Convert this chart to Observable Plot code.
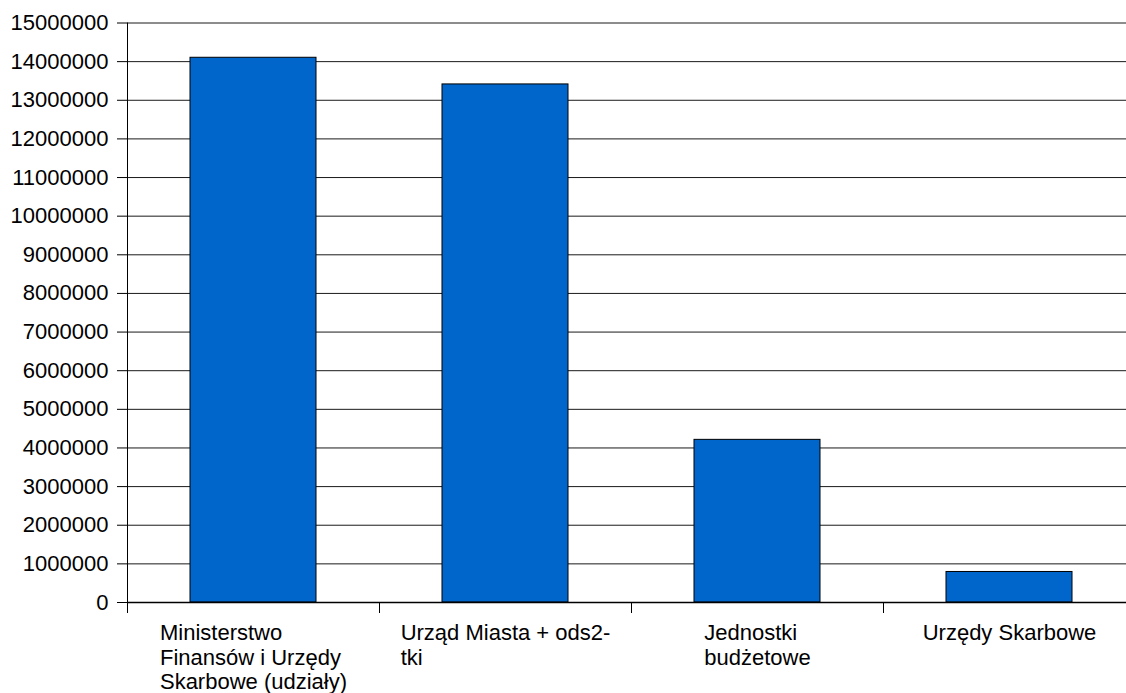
<!DOCTYPE html>
<html><head><meta charset="utf-8">
<script src="https://cdn.jsdelivr.net/npm/d3@7"></script>
<script src="https://cdn.jsdelivr.net/npm/@observablehq/plot@0.6"></script>
<style>html,body{margin:0;padding:0;background:#fff} svg{display:block}</style>
</head><body><div id="chart"></div>
<script>
const categories = [
  "Ministerstwo\nFinansów i Urzędy\nSkarbowe (udziały)",
  "Urząd Miasta + ods2-\ntki",
  "Jednostki\nbudżetowe",
  "Urzędy Skarbowe"
];
const values = [14100000, 13410000, 4210000, 790000];
const yTicks = [0, 1000000, 2000000, 3000000, 4000000, 5000000, 6000000, 7000000,
  8000000, 9000000, 10000000, 11000000, 12000000, 13000000, 14000000, 15000000];

const FONT = "'Liberation Sans', Arial, Helvetica, sans-serif";
const FS = 22;
const ctx = document.createElement("canvas").getContext("2d");
ctx.font = `${FS}px ${FONT}`;
const blockWidth = s => Math.max(...s.split("\n").map(l => ctx.measureText(l).width));

const xRange = [127, 1135];
const step = (xRange[1] - xRange[0]) / categories.length;
const data = categories.map((c, i) => ({category: c, value: values[i]}));

const labelMarks = data.map(d => Plot.text([d], {
  x: "category", y: () => 0, text: "category",
  textAnchor: "start", lineAnchor: "top", lineHeight: 24.5 / FS,
  dx: -blockWidth(d.category) / 2, dy: 20.5,
  fill: "#000", fontSize: FS
}));

const plot = Plot.plot({
  width: 1126, height: 693,
  marginLeft: 127, marginRight: 0, marginTop: 22.5, marginBottom: 91,
  style: {fontFamily: FONT, fontSize: FS + "px", color: "#000", background: "#fff", overflow: "visible"},
  x: {type: "band", domain: categories, range: xRange, paddingInner: 0.5, paddingOuter: 0.25, axis: null},
  y: {domain: [0, 15000000], axis: null},
  marks: [
    Plot.ruleY(yTicks, {stroke: "#1a1a1a", strokeWidth: 1}),
    Plot.barY(data, {x: "category", y: "value", fill: "#0066cc", stroke: "#000", strokeWidth: 1}),
    Plot.ruleY([0], {stroke: "#000", strokeWidth: 1.5}),
    Plot.ruleX(categories, {x: d => d, y1: () => 0, y2: () => 0, insetBottom: -11, dx: -step / 2, stroke: "#000"}),
    Plot.ruleX(categories.slice(0, 1), {x: d => d, y1: () => 15000000, y2: () => 0, insetBottom: -11, dx: -step / 2, stroke: "#000"}),
    Plot.axisY(yTicks, {tickSize: 10, tickPadding: 9, tickFormat: d3.format("d"), label: null, fontSize: FS, stroke: "#000", fill: "#000"}),
    ...labelMarks
  ]
});
document.getElementById("chart").appendChild(plot);
</script>
</body></html>
